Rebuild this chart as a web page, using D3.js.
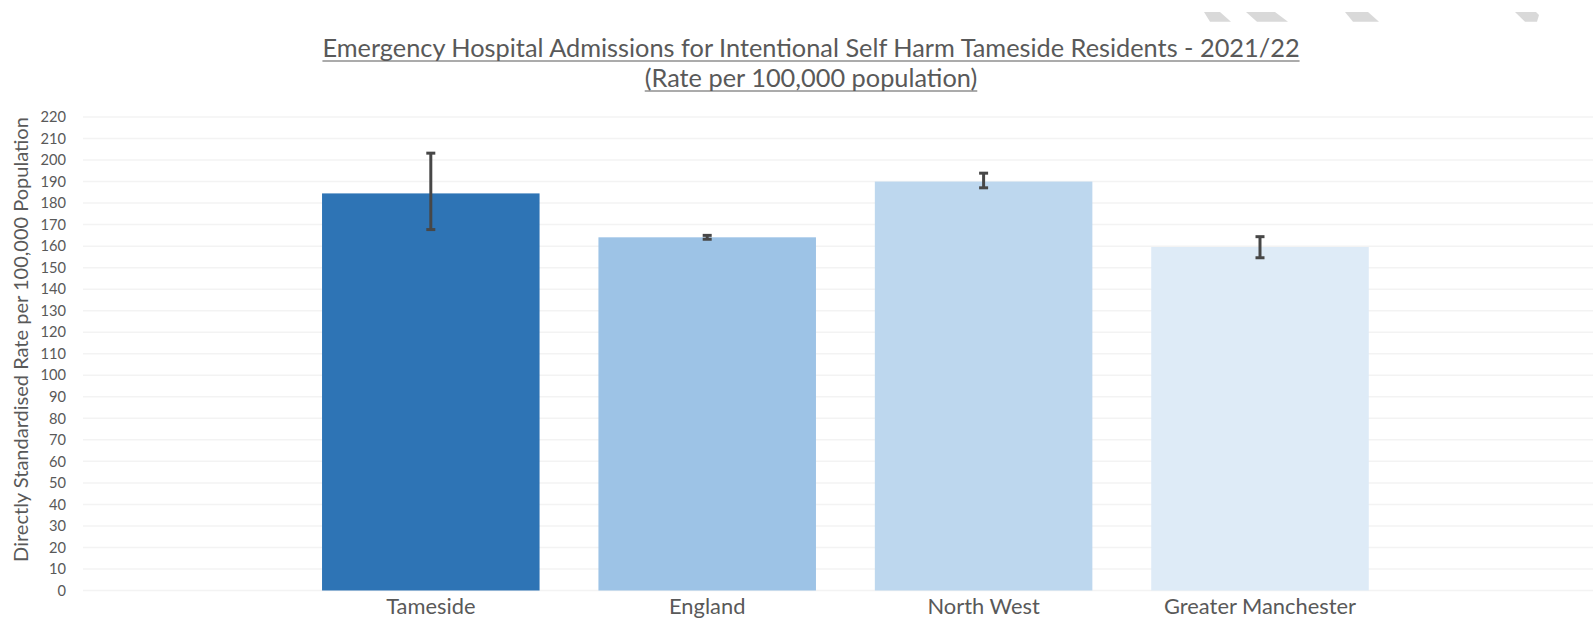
<!DOCTYPE html>
<html>
<head>
<meta charset="utf-8">
<script src="https://cdn.jsdelivr.net/npm/d3@7"></script>
<style>
  html, body { margin: 0; padding: 0; background: #ffffff; }
  svg { display: block; }
  text { font-family: Lato, "Open Sans", "Noto Sans", sans-serif; fill: #595959; }
</style>
</head>
<body>
<svg id="chart" width="1593" height="618"></svg>
<script>
// ---- data ----
const categories = ["Tameside", "England", "North West", "Greater Manchester"];
const rates = [184.5, 164.1, 190.0, 159.6];
const lowerCI = [167.7, 163.2, 187.1, 154.6];
const upperCI = [203.2, 165.0, 193.9, 164.4];
const barColors = ["#2e74b5", "#9dc3e6", "#bdd7ee", "#deebf7"];
const yTicks = d3.range(0, 221, 10);
const titleLines = [
  "Emergency Hospital Admissions for Intentional Self Harm Tameside Residents - 2021/22",
  "(Rate per 100,000 population)"
];
const yAxisTitle = "Directly Standardised Rate per 100,000 Population";

// ---- layout ----
const W = 1593, H = 618;
const svg = d3.select("#chart");
const plot = { left: 83, right: 1593, top: 117, bottom: 590.5 };

const y = d3.scaleLinear().domain([0, 220]).range([plot.bottom, plot.top]);
const x = d3.scaleBand()
  .domain(categories)
  .range([292.6, 1398.2])
  .paddingInner(0.213)
  .paddingOuter(0.1065);

// fit text to a target width
function fit(sel, target, maxSize) {
  let fs = maxSize;
  sel.style("font-size", fs + "px");
  const w = sel.node().getComputedTextLength();
  if (w > 0) fs = fs * target / w;
  sel.style("font-size", fs + "px");
  return fs;
}

// decorative page artefacts in the top-right
const deco = [
  [[1204,12],[1220,12],[1231,21.7],[1210,21.7]],
  [[1246,12],[1275,12],[1288,21.7],[1257,21.7]],
  [[1345,12],[1368,12],[1379,21.7],[1353,21.7]],
  [[1515,12],[1536,12],[1539,15],[1537,21.7],[1525,21.7]]
];
svg.append("g").selectAll("path").data(deco).join("path")
  .attr("d", d => "M" + d.map(p => p.join(",")).join("L") + "Z")
  .attr("fill", "#d9d9d9");

// gridlines
svg.append("g").selectAll("line").data(yTicks).join("line")
  .attr("x1", plot.left).attr("x2", plot.right)
  .attr("y1", d => y(d)).attr("y2", d => y(d))
  .attr("stroke", "#f3f3f3").attr("stroke-width", 1.5);

// y axis (labels only)
const yAxis = d3.axisLeft(y).tickValues(yTicks).tickSize(0).tickPadding(0);
const yg = svg.append("g").attr("transform", "translate(66,0)").call(yAxis);
yg.select(".domain").remove();
yg.selectAll("text").attr("fill", "#595959").style("font-family", "Lato, 'Open Sans', sans-serif");
let tickFs = 16;
yg.selectAll("text").filter(d => d === 220).each(function() { tickFs = fit(d3.select(this), 25.5, 16); });
yg.selectAll("text").style("font-size", tickFs + "px");

// bars
svg.append("g").selectAll("rect").data(categories).join("rect")
  .attr("x", d => x(d))
  .attr("y", (d, i) => y(rates[i]))
  .attr("width", x.bandwidth())
  .attr("height", (d, i) => y(0) - y(rates[i]))
  .attr("fill", (d, i) => barColors[i]);

// error bars
const eg = svg.append("g").attr("stroke", "#474747").attr("fill", "none");
categories.forEach((c, i) => {
  const cx = x(c) + x.bandwidth() / 2;
  eg.append("line").attr("x1", cx).attr("x2", cx)
    .attr("y1", y(upperCI[i])).attr("y2", y(lowerCI[i])).attr("stroke-width", 3);
  [upperCI[i], lowerCI[i]].forEach(v => {
    eg.append("line").attr("x1", cx - 4.5).attr("x2", cx + 4.5)
      .attr("y1", y(v)).attr("y2", y(v)).attr("stroke-width", 3);
  });
});

// x axis labels
const xAxis = d3.axisBottom(x).tickSize(0).tickPadding(0);
const xg = svg.append("g").attr("transform", "translate(0," + plot.bottom + ")").call(xAxis);
xg.select(".domain").remove();
xg.selectAll("text").attr("fill", "#595959").attr("dy", null).attr("y", 23.5)
  .style("font-family", "Lato, 'Open Sans', sans-serif");
let xFs = 20;
xg.selectAll("text").filter(d => d === "Greater Manchester").each(function() { xFs = fit(d3.select(this), 192, 20); });
xg.selectAll("text").style("font-size", xFs + "px");

// y axis title
const yt = svg.append("text")
  .attr("transform", "translate(28,339.5) rotate(-90)")
  .attr("text-anchor", "middle")
  .text(yAxisTitle);
fit(yt, 445, 16);

// title
const t1 = svg.append("text").attr("x", 811).attr("y", 57).attr("text-anchor", "middle").text(titleLines[0]);
const f1 = fit(t1, 978, 21);
const t2 = svg.append("text").attr("x", 811).attr("y", 87).attr("text-anchor", "middle").text(titleLines[1]);
t2.style("font-size", f1 + "px");
[[t1, 61], [t2, 91]].forEach(([t, uy]) => {
  const w = t.node().getComputedTextLength();
  svg.append("line").attr("x1", 811 - w / 2).attr("x2", 811 + w / 2)
    .attr("y1", uy).attr("y2", uy).attr("stroke", "#595959").attr("stroke-width", 1.2);
});
</script>
</body>
</html>
